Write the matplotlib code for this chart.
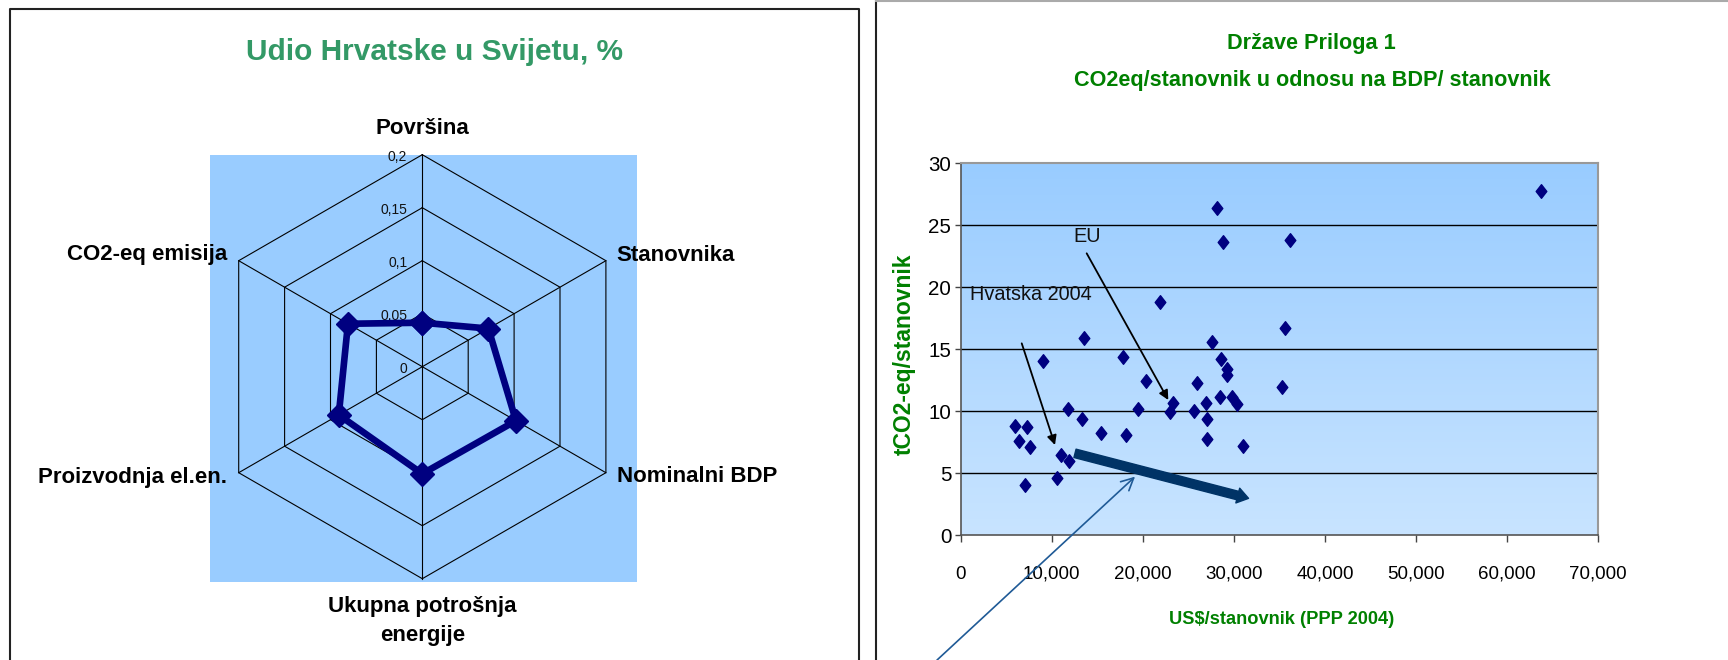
import numpy as np
import matplotlib
matplotlib.use("Agg")
import matplotlib.pyplot as plt
from matplotlib import font_manager
from matplotlib.patches import Rectangle
from matplotlib.lines import Line2D
from matplotlib.path import Path

# ---------------- data ----------------
# Radar: Croatia's share of the world total, %
categories = ["Površina", "Stanovnika", "Nominalni BDP",
              "Ukupna potrošnja\nenergije", "Proizvodnja el.en.", "CO2-eq emisija"]
share = [0.0415, 0.072, 0.102, 0.101, 0.091, 0.081]
radial_ticks = [0, 0.05, 0.1, 0.15, 0.2]
radial_labels = ["0", "0,05", "0,1", "0,15", "0,2"]

# Scatter: Annex I countries, GDP per capita (PPP 2004) vs CO2-eq per capita
gdp_per_capita = [5970, 6410, 7330, 7660, 7070, 9080, 10990, 10620, 11940, 11760,
                  13370, 13520, 15390, 17770, 18100, 19490, 20290, 21830, 22970, 23300,
                  25640, 25930, 26920, 27030, 27030, 27550, 28170, 28790, 28610, 28500,
                  29270, 29230, 29740, 30370, 30990, 35240, 35570, 36190, 63660]
co2_per_capita = [8.82, 7.58, 8.71, 7.10, 4.03, 14.03, 6.48, 4.65, 5.97, 10.16,
                  9.35, 15.94, 8.23, 14.35, 8.09, 10.19, 12.45, 18.84, 9.97, 10.67,
                  10.00, 12.26, 10.65, 9.35, 7.74, 15.62, 26.42, 23.68, 14.19, 11.13,
                  13.41, 12.90, 11.16, 10.62, 7.23, 11.94, 16.75, 23.84, 27.74]
x_ticks = [0, 10000, 20000, 30000, 40000, 50000, 60000, 70000]
x_tick_labels = ["0", "10,000", "20,000", "30,000", "40,000", "50,000", "60,000", "70,000"]
y_ticks = [0, 5, 10, 15, 20, 25, 30]
y_tick_labels = ["0", "5", "10", "15", "20", "25", "30"]

# ---------------- fonts ----------------
names = set(font_manager.get_font_names())
if "Liberation Sans Narrow" in names:
    NARROW, NS = "Liberation Sans Narrow", 1.0
else:
    NARROW, NS = "Liberation Sans", 0.82
SANS = "Liberation Sans"

W, H = 1728, 660
fig = plt.figure(figsize=(W / 100, H / 100), dpi=100)
fig.patch.set_facecolor("white")


def fx(px):
    return px / W


def fy(py):
    return 1 - py / H


# ---------------- panel frames ----------------
fig.add_artist(Line2D([fx(9.7), fx(9.7), fx(859.3), fx(859.3)],
                      [fy(700), fy(9), fy(9), fy(700)],
                      transform=fig.transFigure, color="#222222", lw=1.5))
fig.add_artist(Line2D([fx(875.7), fx(875.7)], [fy(700), fy(1)],
                      transform=fig.transFigure, color="#222222", lw=1.5))
fig.add_artist(Line2D([fx(875.7), fx(1730)], [fy(1), fy(1)],
                      transform=fig.transFigure, color="#aaaaaa", lw=1.5))

# ---------------- radar chart ----------------
fig.add_artist(Rectangle((fx(210), fy(582)), fx(637) - fx(210), fy(155) - fy(582),
                         transform=fig.transFigure, facecolor="#99CCFF",
                         edgecolor="none", zorder=-1))

cx, cy, R = 422.3, 366.7, 212
rax = fig.add_axes([fx(cx - R), fy(cy + R), 2 * R / W, 2 * R / H], projection="polar")
rax.set_facecolor("none")
rax.set_theta_offset(np.pi / 2)
rax.set_theta_direction(-1)
rax.set_ylim(0, radial_ticks[-1])
rax.set_xticks([])
rax.set_yticks([])
rax.grid(False)
rax.spines["polar"].set_visible(False)

theta = np.arange(len(categories)) * 2 * np.pi / len(categories)
theta_closed = np.r_[theta, theta[0]]

for r in radial_ticks[1:]:
    rax.plot(theta_closed, [r] * len(theta_closed), color="black", lw=0.8, clip_on=False)
for t in theta:
    rax.plot([t, t], [0, radial_ticks[-1]], color="black", lw=0.8, clip_on=False)

for r, lab in zip(radial_ticks, radial_labels):
    rax.annotate(lab, xy=(0, r), xytext=(-10.8, -1.5), textcoords="offset points",
                 ha="right", va="center", fontsize=10, family=SANS, color="#111111")

rax.plot(theta_closed, np.r_[share, share[0]], color="#000080", lw=4.8,
         marker="D", ms=12.5, clip_on=False, zorder=5)

label_offsets = [((0, 19), "center", "center"),
                 ((7.7, 4), "left", "center"),
                 ((7.7, -2.9), "left", "center"),
                 ((0, -30.5), "center", "center"),
                 ((-8.2, -3.8), "right", "center"),
                 ((-8.2, 4.6), "right", "center")]
for t, lab, (off, ha, va) in zip(theta, categories, label_offsets):
    rax.annotate(lab, xy=(t, radial_ticks[-1]), xytext=off, textcoords="offset points",
                 ha=ha, va=va, fontsize=16, fontweight="bold", family=SANS,
                 linespacing=1.45, annotation_clip=False)

fig.text(fx(434.7), fy(52), "Udio Hrvatske u Svijetu, %", ha="center", va="center",
         fontsize=21.5, fontweight="bold", family=SANS, color="#339966")

# ---------------- scatter chart ----------------
ax_l, ax_r, ax_t, ax_b = 960.7, 1598.3, 163.3, 535.3
ax = fig.add_axes([fx(ax_l), fy(ax_b), (ax_r - ax_l) / W, (ax_b - ax_t) / H])
ax.set_xlim(x_ticks[0], x_ticks[-1])
ax.set_ylim(y_ticks[0], y_ticks[-1])

top_col = np.array([153, 204, 255]) / 255
bot_col = np.array([200, 228, 255]) / 255
grad = np.linspace(0, 1, 256)[:, None, None]
img = top_col * (1 - grad) + bot_col * grad
ax.imshow(img, extent=[x_ticks[0], x_ticks[-1], y_ticks[0], y_ticks[-1]],
          aspect="auto", zorder=0, interpolation="bilinear")

for yv in y_ticks[1:-1]:
    ax.axhline(yv, color="black", lw=1.0, zorder=1)

diamond = Path([(0, 1), (0.78, 0), (0, -1), (-0.78, 0), (0, 1)],
               [Path.MOVETO, Path.LINETO, Path.LINETO, Path.LINETO, Path.CLOSEPOLY])
ax.plot(gdp_per_capita, co2_per_capita, linestyle="none", marker=diamond,
        ms=9.8, color="#000080", zorder=4)

ax.set_xticks(x_ticks)
ax.set_xticklabels(x_tick_labels, family=NARROW, fontsize=16.5 * NS)
ax.set_yticks(y_ticks)
ax.set_yticklabels(y_tick_labels, family=NARROW, fontsize=18 * NS)
ax.tick_params(axis="x", direction="out", length=5, width=1, color="#444444", pad=17)
ax.tick_params(axis="y", direction="out", length=4.3, width=1, color="#444444", pad=2.5)
for s in ("left", "bottom"):
    ax.spines[s].set_color("#555555")
    ax.spines[s].set_linewidth(1.2)
for s in ("top", "right"):
    ax.spines[s].set_color("#999999")
    ax.spines[s].set_linewidth(1.5)

# annotations
ax.text(12330, 24.1, "EU", family=NARROW, fontsize=17.5 * NS, ha="left", va="center",
        color="#111111")
ax.annotate("", xy=(22790, 10.91), xytext=(13830, 22.74),
            arrowprops=dict(arrowstyle="-|>", color="black", lw=1.3,
                            mutation_scale=14, shrinkA=0, shrinkB=0))
ax.text(1020, 19.4, "Hvatska 2004", family=NARROW, fontsize=17.5 * NS, ha="left",
        va="center", color="#111111")
ax.annotate("", xy=(10350, 7.28), xytext=(6700, 15.48),
            arrowprops=dict(arrowstyle="-|>", color="black", lw=1.3,
                            mutation_scale=14, shrinkA=0, shrinkB=0))
ax.annotate("", xy=(31600, 2.98), xytext=(12550, 6.61),
            arrowprops=dict(width=6.2, headwidth=11, headlength=8,
                            color="#003366", shrink=0), zorder=5)
ax.annotate("", xy=(19140, 4.73), xytext=(-2600, -10.06),
            arrowprops=dict(arrowstyle="->", color="#1F5A96", lw=1.2,
                            mutation_scale=22, shrinkA=0, shrinkB=0),
            annotation_clip=False, zorder=6)

fig.text(fx(904), fy(354), "tCO2-eq/stanovnik", rotation=90, ha="center", va="center",
         fontsize=16.5, fontweight="bold", family=SANS, color="#008000")
fig.text(fx(1282), fy(620), "US$/stanovnik (PPP 2004)", ha="center", va="center",
         fontsize=16 * NS, fontweight="bold", family=NARROW, color="#008000")
fig.text(fx(1311.3), fy(43), "Države Priloga 1", ha="center", va="center",
         fontsize=19 * NS, fontweight="bold", family=NARROW, color="#008000")
fig.text(fx(1312.5), fy(80.5), "CO2eq/stanovnik u odnosu na BDP/ stanovnik", ha="center",
         va="center", fontsize=19 * NS, fontweight="bold", family=NARROW, color="#008000")

fig.savefig("out.png", dpi=100)
